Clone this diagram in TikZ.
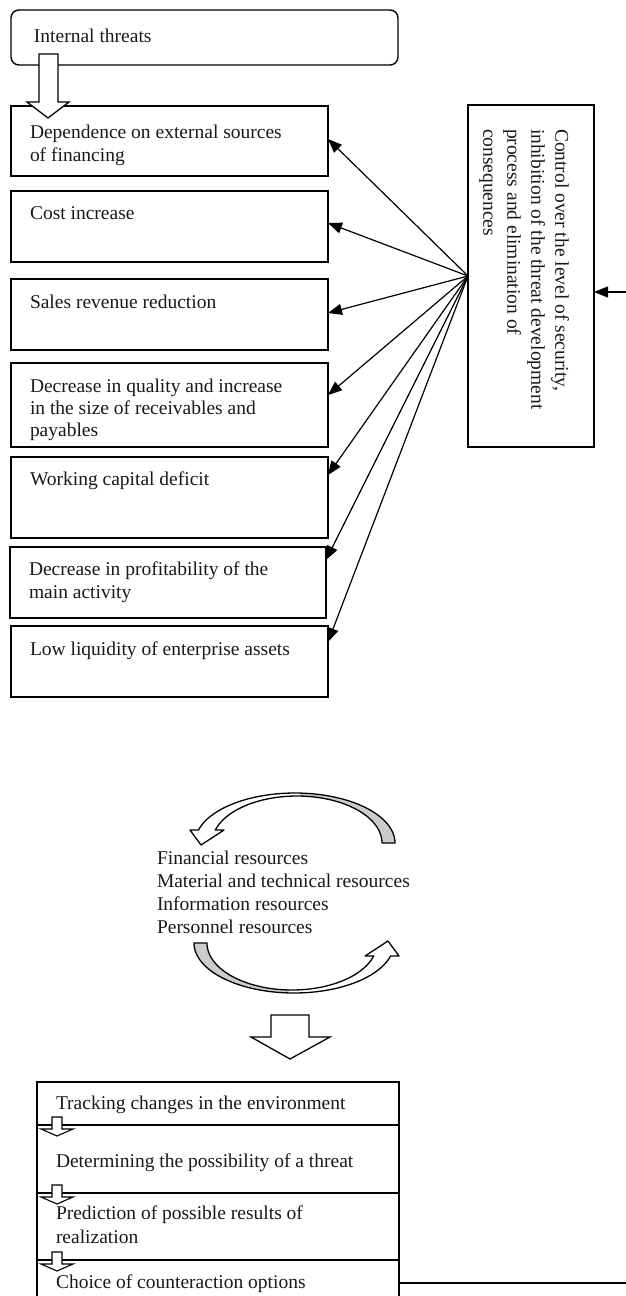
\documentclass[tikz,border=0pt]{standalone}
\usepackage{fontspec}
\setmainfont{Liberation Serif}
\usetikzlibrary{arrows.meta}
\newcommand{\crescentpath}{plot[domain=0:165,samples=60] ({295+100*cos(\x)},{843-50*sin(\x)}) -- (190,830) -- (201,845) -- (224,830) -- (215,830) -- plot[domain=164:0,samples=60] ({297+85*cos(\x)},{843-47*sin(\x)}) -- cycle}
\begin{document}
\begin{tikzpicture}[x=1pt,y=-1pt,
  every node/.style={font=\fontsize{19.5}{23}\selectfont, text=black!90, inner sep=0pt, outer sep=0pt},
  box/.style={draw, line width=1.4pt, anchor=north west, minimum width=317pt},
  txt/.style={anchor=north west, align=left},
  btxt/.style={anchor=base west},
  conn/.style={line width=1.2pt, -{Triangle[length=14pt,width=11pt]}},
  blockarr/.style={draw, fill=white, line width=1.3pt, line join=miter},
  smallarr/.pic={\draw[blockarr, line width=1.1pt] (-5,-8) -- (5,-8) -- (5,4) -- (16,4) -- (0,11) -- (-16,4) -- (-5,4) -- cycle;}
]
\useasboundingbox (0,0) rectangle (626,1296);

% top block
\node[box, rounded corners=8pt, minimum width=387pt, minimum height=55pt] (it) at (11,10) {};
\node[btxt] (itT) at (34,42) {Internal threats};

% threat boxes
\node[box, minimum height=70pt] (b1) at (11,106) {};
\node[box, minimum height=71pt] (b2) at (11,191) {};
\node[box, minimum height=71pt] (b3) at (11,279) {};
\node[box, minimum height=84pt] (b4) at (11,363) {};
\node[box, minimum height=81pt] (b5) at (11,457) {};
\node[box, minimum height=71pt, minimum width=316pt] (b6) at (10,547) {};
\node[box, minimum height=71pt] (b7) at (11,626) {};

\node[txt] (t1) at (30,124.7) {Dependence on external sources\\of financing};
\node[btxt] (t2) at (30,219) {Cost increase};
\node[btxt] (t3) at (30,308) {Sales revenue reduction};
\node[txt, font=\fontsize{19.5}{22}\selectfont] (t4) at (30,378.7) {Decrease in quality and increase\\in the size of receivables and\\payables};
\node[btxt] (t5) at (30,485) {Working capital deficit};
\node[txt] (t6) at (29,561.7) {Decrease in profitability of the\\main activity};
\node[btxt] (t7) at (30,655) {Low liquidity of enterprise assets};

% hollow arrow from top block
\draw[blockarr] (39,54) -- (58,54) -- (58,102) -- (69,102) -- (48,118) -- (27,102) -- (39,102) -- cycle;

% control box
\node[box, minimum width=126pt, minimum height=342pt] (ctl) at (468,105) {};
\node[txt, rotate=-90, font=\fontsize{19.5}{24}\selectfont] (ctlT) at (569,129) {Control over the level of security,\\inhibition of the threat development\\process and elimination of\\consequences};

% connectors
\draw[conn] (ctl.west) -- (b1.east |- 0,139);
\draw[conn] (ctl.west) -- (b2.east |- 0,223);
\draw[conn] (ctl.west) -- (b3.east |- 0,313);
\draw[conn] (ctl.west) -- (b4.east |- 0,395);
\draw[conn] (ctl.west) -- (b5.east |- 0,475);
\draw[conn] (ctl.west) -- (b6.east |- 0,560);
\draw[conn] (ctl.west) -- (b7.east |- 0,642);
\coordinate (rin) at (626,292);
\draw[conn] (rin) -- (ctl.east |- rin);

% resources cycle
\begin{scope}
  \begin{scope}
    \clip \crescentpath;
    \fill[black!20] (300,770) rectangle (410,860);
  \end{scope}
  \draw[line width=1.3pt, line join=round] \crescentpath;
\end{scope}
\begin{scope}[rotate around={180:(294.5,893)}]
  \begin{scope}
    \clip \crescentpath;
    \fill[black!20] (300,770) rectangle (410,860);
  \end{scope}
  \draw[line width=1.3pt, line join=round] \crescentpath;
\end{scope}
\node[txt] (res) at (157,850.7) {Financial resources\\Material and technical resources\\Information resources\\Personnel resources};

% big down arrow
\draw[blockarr] (271,1015) -- (309,1015) -- (309,1037) -- (330,1037) -- (290,1059) -- (251,1037) -- (271,1037) -- cycle;

% stack
\node[box, minimum width=362pt, minimum height=43pt] (s1) at (37,1082) {};
\node[box, minimum width=362pt, minimum height=68pt] (s2) at (37,1125) {};
\node[box, minimum width=362pt, minimum height=67pt] (s3) at (37,1193) {};
\node[box, minimum width=362pt, minimum height=50pt] (s4) at (37,1260) {};
\node[btxt] (st1) at (56,1109) {Tracking changes in the environment};
\node[btxt] (st2) at (56,1167) {Determining the possibility of a threat};
\node[txt, font=\fontsize{19.5}{24}\selectfont] (st3) at (56,1205.7) {Prediction of possible results of\\realization};
\node[btxt] (st4) at (56,1288) {Choice of counteraction options};
\pic at (57,1125) {smallarr};
\pic at (57,1193) {smallarr};
\pic at (57,1260) {smallarr};
\coordinate (rout) at (626,1283);
\draw[line width=1.2pt] (s4.east |- rout) -- (rout);
\end{tikzpicture}
\end{document}
